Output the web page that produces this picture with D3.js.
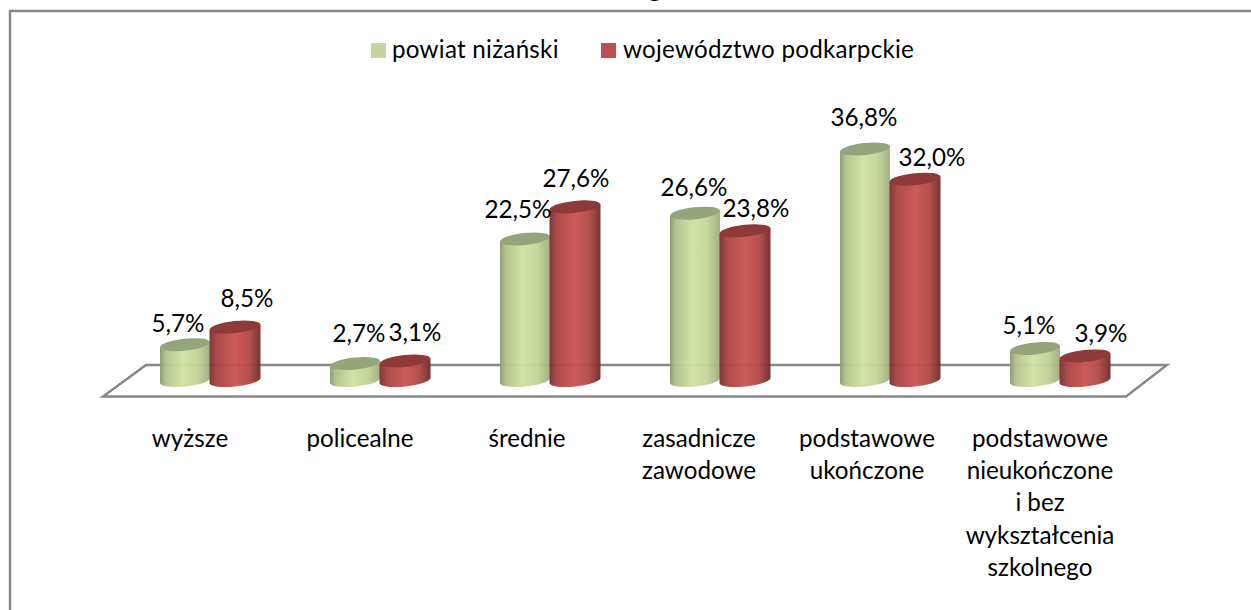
<!DOCTYPE html>
<html><head><meta charset="utf-8">
<script src="https://cdn.jsdelivr.net/npm/d3@7"></script>
<style>html,body{margin:0;padding:0;background:#fff;overflow:hidden}svg{display:block}text{font-family:Lato,"Open Sans",sans-serif;fill:#000}</style>
</head><body><svg id="c" width="1251" height="610"></svg>
<script>
const categories = ["wyższe","policealne","średnie","zasadnicze zawodowe","podstawowe ukończone","podstawowe nieukończone i bez wykształcenia szkolnego"];
const categoryLines = [["wyższe"],["policealne"],["średnie"],["zasadnicze","zawodowe"],["podstawowe","ukończone"],["podstawowe","nieukończone","i bez","wykształcenia","szkolnego"]];
const seriesNames = ["powiat niżański","województwo podkarpckie"];
const powiat = [5.7,2.7,22.5,26.6,36.8,5.1];
const wojewodztwo = [8.5,3.1,27.6,23.8,32.0,3.9];
const labelsPowiat = ["5,7%","2,7%","22,5%","26,6%","36,8%","5,1%"];
const labelsWoj = ["8,5%","3,1%","27,6%","23,8%","32,0%","3,9%"];
// hand placement of the data labels, as in the reference
const nudgeX = [[-7,4,-7,-1,-1,-6],[12,10,1,11,17,16]];
const nudgeY = [[-13,-22,-21,-17,-23,-14],[-20,-20,-20,-14,-13,-14]];
const tickNudge = [0,0,-3,-1,-3,0];

const svg = d3.select("#c");
const FONT = 24.2;
const x = d3.scaleBand().domain(categories).range([125,1145]).paddingInner(0).paddingOuter(0);
const xs = d3.scaleBand().domain([0,1]).range([0,100]);
const y = d3.scaleLinear().domain([0,36.8]).range([380.5,149]);
const tilt = 6*Math.PI/180;
const ry = 6;

const defs = svg.append("defs");
function grad(id,stops){
  const g = defs.append("linearGradient").attr("id",id).attr("x1",0).attr("x2",1).attr("y1",0).attr("y2",0);
  stops.forEach(s=>g.append("stop").attr("offset",s[0]).attr("stop-color",s[1]));
}
grad("gG",[[0,"#8b9870"],[.12,"#b3c28a"],[.45,"#d0e2a4"],[.75,"#c3d398"],[1,"#a0ae7d"]]);
grad("gR",[[0,"#7a2f2e"],[.15,"#a94544"],[.5,"#ca5553"],[.78,"#b04a48"],[1,"#6f2c2b"]]);
const barFill = ["url(#gG)","url(#gR)"], topFill=["#96a47b","#8f3a38"], legendFill=["#c3d69b","#c0504d"];

// frame
svg.append("path").attr("d","M10,610V11H1251").attr("fill","none").attr("stroke","#868686").attr("stroke-width",2.4);
// clipped title remainder
svg.append("text").attr("x",655).attr("y",-3).attr("text-anchor","middle").attr("font-size",26).attr("font-weight",700).text("g");

// floor
svg.append("path").attr("d","M103,396.5H1126L1167,365H146Z").attr("fill","none").attr("stroke","#868686").attr("stroke-width",2.4);

// bars
[powiat,wojewodztwo].forEach((vals,s)=>{
  const g = svg.append("g");
  const rx = xs.bandwidth()/2+(s?0.5:0);
  const dx = rx*Math.sin(tilt)*1, cxOf = i=>x(categories[i])+x.bandwidth()/2-50+xs(s)+rx-(s?0.5:0);
  vals.forEach((v,i)=>{
    const cx = cxOf(i), t=y(v), b=y(0);
    g.append("path").attr("fill",barFill[s]).attr("fill-opacity",.96)
     .attr("d",`M${cx-rx},${t+dx}L${cx-rx},${b+dx}A${rx},${ry} -6 0 0 ${cx+rx},${b-dx}L${cx+rx},${t-dx}Z`);
    g.append("ellipse").attr("cx",0).attr("cy",0).attr("rx",rx).attr("ry",ry)
     .attr("transform",`translate(${cx},${t}) rotate(-6)`).attr("fill",topFill[s]);
  });
});
// data labels (on top)
[labelsPowiat,labelsWoj].forEach((labs,s)=>{
  const vals = s?wojewodztwo:powiat;
  labs.forEach((l,i)=>{
    svg.append("text").attr("x",x(categories[i])+x.bandwidth()/2-50+xs(s)+xs.bandwidth()/2+nudgeX[s][i])
      .attr("y",y(vals[i])+nudgeY[s][i]).attr("text-anchor","middle").attr("font-size",FONT).text(l);
  });
});

// category axis
const axis = svg.append("g").attr("transform","translate(-20,420)")
  .call(d3.axisBottom(x).tickSize(0).tickFormat(""));
axis.select(".domain").remove();
axis.selectAll(".tick").each(function(d,i){
  const t = d3.select(this).select("text").attr("y",0).attr("dy",null).attr("font-size",FONT).attr("font-family",null).style("font-family","Lato");
  categoryLines[i].forEach((ln,k)=>t.append("tspan").attr("x",tickNudge[i]).attr("y",27+k*32.2).text(ln));
});

// legend
const legX=[371,601], txtX=[392,623];
seriesNames.forEach((n,s)=>{
  svg.append("rect").attr("x",legX[s]).attr("y",43).attr("width",15).attr("height",15).attr("fill",legendFill[s]);
  svg.append("text").attr("x",txtX[s]).attr("y",58).attr("font-size",FONT).attr("letter-spacing",.25).text(n);
});
</script></body></html>
